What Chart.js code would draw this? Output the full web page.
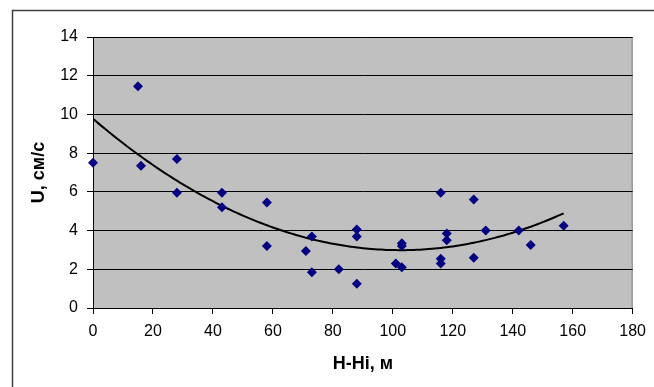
<!DOCTYPE html>
<html>
<head>
<meta charset="utf-8">
<script src="https://cdn.jsdelivr.net/npm/chart.js@4"></script>
<style>
  html, body { margin: 0; padding: 0; background: #fff; }
  #wrap { width: 654px; height: 387px; position: relative; }
</style>
</head>
<body>
<div id="wrap"><canvas id="scatterChart" width="654" height="387"></canvas></div>
<script>
// Измерения: расстояние H-Hi (м) и скорость U (см/с)
const depthH = [0, 15, 16, 28, 28, 43, 43, 58, 58, 71, 73, 73, 82, 88, 88, 88,
                101, 103, 103, 103, 116, 116, 116, 118, 118, 127, 127, 131, 142, 146, 157];
const speedU = [7.5, 11.45, 7.35, 7.7, 5.95, 5.95, 5.2, 5.45, 3.2, 2.95, 3.7, 1.85, 2.0, 4.05, 3.7, 1.25,
                2.3, 3.35, 3.2, 2.1, 5.95, 2.55, 2.3, 3.85, 3.5, 5.6, 2.6, 4.0, 4.0, 3.25, 4.25];

const xTicks = [0, 20, 40, 60, 80, 100, 120, 140, 160, 180];
const yTicks = [0, 2, 4, 6, 8, 10, 12, 14];

// Полиномиальный тренд 2-й степени (МНК по точкам)
function fitQuadratic(xs, ys) {
    const s = [0, 0, 0, 0, 0], t = [0, 0, 0];
    for (let i = 0; i < xs.length; i++) {
        let p = 1;
        for (let k = 0; k < 5; k++) { s[k] += p; if (k < 3) t[k] += p * ys[i]; p *= xs[i]; }
    }
    const m = [[s[0], s[1], s[2], t[0]], [s[1], s[2], s[3], t[1]], [s[2], s[3], s[4], t[2]]];
    for (let c = 0; c < 3; c++) {
        for (let r = c + 1; r < 3; r++) {
            const f = m[r][c] / m[c][c];
            for (let k = c; k < 4; k++) m[r][k] -= f * m[c][k];
        }
    }
    const a = [0, 0, 0];
    for (let r = 2; r >= 0; r--) {
        let v = m[r][3];
        for (let k = r + 1; k < 3; k++) v -= m[r][k] * a[k];
        a[r] = v / m[r][r];
    }
    return a; // c0 + c1*x + c2*x^2
}

const coef = fitQuadratic(depthH, speedU);
const xMin = Math.min(...depthH), xMax = Math.max(...depthH);
const trend = [];
for (let x = xMin; x <= xMax; x += 1) {
    trend.push({ x: x, y: coef[0] + coef[1] * x + coef[2] * x * x });
}

// фон области построения и рамка
const plotBackground = {
    id: 'plotBackground',
    beforeDraw(chart) {
        const { ctx, chartArea: a } = chart;
        ctx.save();
        ctx.fillStyle = '#fff';
        ctx.fillRect(0, 0, chart.width, chart.height);
        // внешняя рамка диаграммы
        ctx.strokeStyle = '#404040';
        ctx.lineWidth = 1.5;
        ctx.beginPath();
        ctx.moveTo(654, 10.5);
        ctx.lineTo(12.5, 10.5);
        ctx.lineTo(12.5, 387);
        ctx.stroke();
        ctx.fillStyle = '#c0c0c0';
        ctx.fillRect(a.left, a.top, a.right - a.left, a.bottom - a.top);
        ctx.strokeStyle = '#808080';
        ctx.lineWidth = 1;
        ctx.beginPath();
        ctx.moveTo(a.left, a.top + 0.5);
        ctx.lineTo(a.right - 0.5, a.top + 0.5);
        ctx.lineTo(a.right - 0.5, a.bottom);
        ctx.stroke();
        ctx.restore();
    }
};

const tickFont = { family: '"Liberation Sans", Arial, sans-serif', size: 16 };
const titleFont = { family: '"Liberation Sans", Arial, sans-serif', size: 18, weight: 'bold' };

new Chart(document.getElementById('scatterChart'), {
    type: 'scatter',
    data: {
        datasets: [
            {
                data: depthH.map((x, i) => ({ x: x, y: speedU[i] })),
                pointStyle: 'rectRot',
                pointRadius: 5,
                backgroundColor: '#000080',
                borderColor: '#000080',
                borderWidth: 0,
                clip: false,
                order: 1
            },
            {
                data: trend,
                showLine: true,
                pointRadius: 0,
                borderColor: '#000',
                borderWidth: 2,
                fill: false,
                order: 2
            }
        ]
    },
    options: {
        responsive: false,
        animation: false,
        events: [],
        layout: { padding: { top: 37, right: 18, left: 0, bottom: 0 } },
        plugins: { legend: { display: false }, tooltip: { enabled: false } },
        scales: {
            x: {
                type: 'linear',
                min: 0, max: 180,
                afterBuildTicks: s => { s.ticks = xTicks.map(v => ({ value: v })); },
                afterFit: s => { s.height = 79; },
                grid: { drawOnChartArea: false, drawTicks: true, tickLength: 6, color: '#000', tickColor: '#000' },
                border: { color: '#000', width: 1 },
                ticks: { color: '#000', font: tickFont, padding: 8, maxRotation: 0 },
                title: { display: true, text: 'H-Hi, м', color: '#000', font: titleFont, padding: { top: 0, bottom: 12 } }
            },
            y: {
                type: 'linear',
                min: 0, max: 14,
                afterBuildTicks: s => { s.ticks = yTicks.map(v => ({ value: v })); },
                afterFit: s => { s.width = 93; },
                grid: { color: '#000', lineWidth: 1, tickLength: 6, tickColor: '#000' },
                border: { color: '#000', width: 1 },
                ticks: { color: '#000', font: tickFont, padding: 9 },
                title: { display: true, text: 'U, см/с', color: '#000', font: titleFont, padding: { top: 28, bottom: 0 } }
            }
        }
    },
    plugins: [plotBackground]
});
</script>
</body>
</html>
